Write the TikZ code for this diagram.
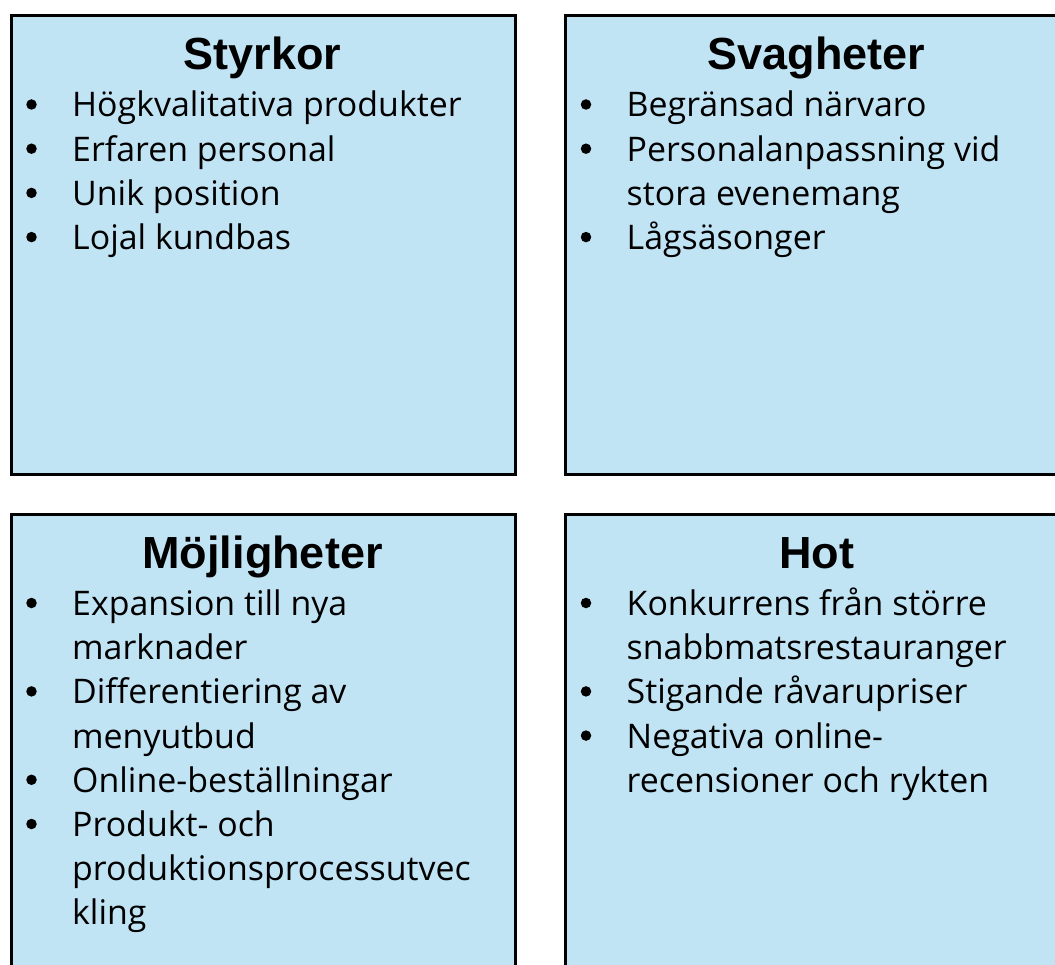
\documentclass[tikz,border=0pt]{standalone}
\usepackage{fontspec}
\setmainfont{Open Sans}
\newfontfamily\titlefont{Liberation Sans}
\definecolor{boxfill}{HTML}{C1E4F5}
\tikzset{
  quad/.style={draw=black, line width=3pt, fill=boxfill, anchor=north west,
    minimum width=504.5pt, minimum height=458.5pt, inner sep=0pt},
  ttl/.style={anchor=base, inner sep=0pt, font=\titlefont\bfseries\fontsize{45}{50}\selectfont},
  itm/.style={anchor=base west, inner sep=0pt, font=\fontsize{33.9}{40}\selectfont},
  bul/.style={circle, fill=black, draw=none, inner sep=0pt, minimum size=10.5pt, yshift=12.5pt}
}
\begin{document}
\begin{tikzpicture}[x=1pt,y=-1pt]
\useasboundingbox (0,0) rectangle (1055,965);
\clip (0,0) rectangle (1055,965);
\node[quad] (S) at (9.5,14.5) {};
\node[quad] (W) at (564,14.5) {};
\node[quad] (O) at (9.5,513) {};
\node[quad] (T) at (564,513) {};
% titles
\node[ttl] (St) at (262.5,70) {Styrkor};
\node[ttl] (Wt) at (816.5,70) {Svagheter};
\node[ttl] (Ot) at (262.5,568.5) {Möjligheter};
\node[ttl] (Tt) at (816.5,568.5) {Hot};
% Styrkor
\node[bul] (Sb1) at (31.5,117) {};
\node[itm] (S1) at (72,117) {Högkvalitativa produkter};
\node[bul] (Sb2) at (31.5,161.2) {};
\node[itm] (S2) at (72,161.2) {Erfaren personal};
\node[bul] (Sb3) at (31.5,205.4) {};
\node[itm] (S3) at (72,205.4) {Unik position};
\node[bul] (Sb4) at (31.5,249.6) {};
\node[itm] (S4) at (72,249.6) {Lojal kundbas};
% Svagheter
\node[bul] (Wb1) at (586,117) {};
\node[itm] (W1) at (626.5,117) {Begränsad närvaro};
\node[bul] (Wb2) at (586,161.2) {};
\node[itm] (W2) at (626.5,161.2) {Personalanpassning vid};
\node[itm] (W2b) at (626.5,205.4) {stora evenemang};
\node[bul] (Wb3) at (586,249.6) {};
\node[itm] (W3) at (626.5,249.6) {Lågsäsonger};
% Möjligheter
\node[bul] (Ob1) at (31.5,615.5) {};
\node[itm] (O1) at (72,615.5) {Expansion till nya};
\node[itm] (O1b) at (72,659.7) {marknader};
\node[bul] (Ob2) at (31.5,703.9) {};
\node[itm] (O2) at (72,703.9) {Differentiering av};
\node[itm] (O2b) at (72,748.1) {menyutbud};
\node[bul] (Ob3) at (31.5,792.3) {};
\node[itm] (O3) at (72,792.3) {Online-beställningar};
\node[bul] (Ob4) at (31.5,836.5) {};
\node[itm] (O4) at (72,836.5) {Produkt- och};
\node[itm] (O4b) at (72,880.7) {produktionsprocessutvec};
\node[itm] (O4c) at (72,924.9) {kling};
% Hot
\node[bul] (Tb1) at (586,615.5) {};
\node[itm] (T1) at (626.5,615.5) {Konkurrens från större};
\node[itm] (T1b) at (626.5,659.7) {snabbmatsrestauranger};
\node[bul] (Tb2) at (586,703.9) {};
\node[itm] (T2) at (626.5,703.9) {Stigande råvarupriser};
\node[bul] (Tb3) at (586,748.1) {};
\node[itm] (T3) at (626.5,748.1) {Negativa online-};
\node[itm] (T3b) at (626.5,792.3) {recensioner och rykten};
\end{tikzpicture}
\end{document}
